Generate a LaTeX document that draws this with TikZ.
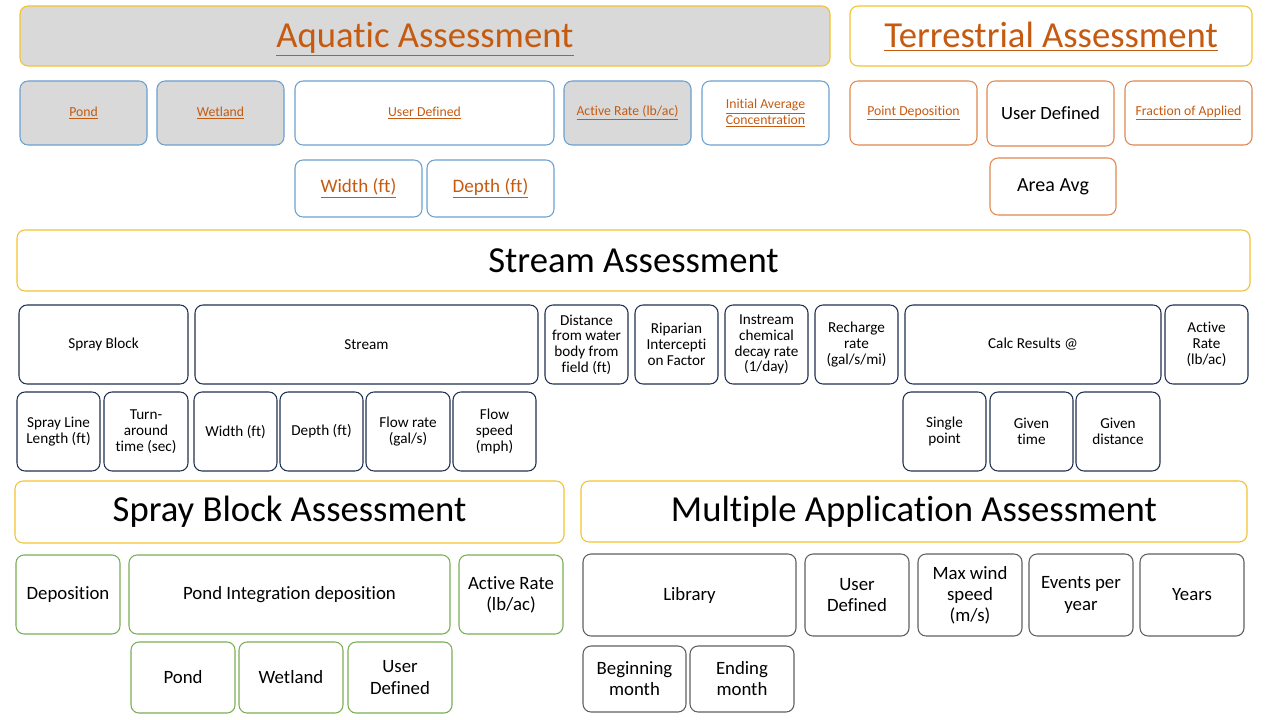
\documentclass[tikz,border=0pt]{standalone}
\usepackage{fontspec}
\setmainfont[Ligatures={NoCommon}]{Carlito}
\definecolor{gold}{HTML}{F2C12E}
\definecolor{bluebd}{HTML}{6A9FCF}
\definecolor{orgbd}{HTML}{E0864E}
\definecolor{navybd}{HTML}{1F3050}
\definecolor{greenbd}{HTML}{7AAE55}
\definecolor{graybd}{HTML}{5F5F5F}
\definecolor{grayfill}{HTML}{D9D9D9}
\definecolor{linkc}{HTML}{C55A11}
\newcommand\bx[7]{\node[#1, minimum width={(#5-#3)*0.75pt}, minimum height={(#6-#4)*0.75pt}] (#2) at ({(#3+#5)/2},{(#4+#6)/2}) {#7};}
\newcommand\ul[1]{\underline{#1}}
\begin{document}
\begin{tikzpicture}[x=0.75pt,y=-0.75pt,
  base/.style={draw, rounded corners=6pt, line width=0.8pt, inner sep=0pt, align=center},
  hdr/.style={base, draw=gold, font=\fontsize{27.5}{32}\selectfont},
  aq/.style={base, draw=bluebd, text=linkc, font=\fontsize{10.3}{11.5}\selectfont},
  aqbig/.style={aq, font=\fontsize{14.3}{16}\selectfont},
  ter/.style={base, draw=orgbd, text=linkc, font=\fontsize{10.3}{11.5}\selectfont},
  terbig/.style={ter, text=black, font=\fontsize{14}{16}\selectfont},
  st/.style={base, draw=navybd, font=\fontsize{11.4}{11.8}\selectfont},
  sb/.style={base, draw=greenbd, font=\fontsize{14.1}{15.8}\selectfont},
  ma/.style={base, draw=graybd, font=\fontsize{14.1}{15.8}\selectfont},
  gf/.style={fill=grayfill}]
\useasboundingbox (0,0) rectangle (1280,720);
% Aquatic
\bx{hdr,gf,text=linkc,text height=20pt,text depth=2.5pt}{aqh}{20}{6}{830}{66}{\ul{Aquatic Assessment}}
\bx{hdr,text=linkc,text height=20pt,text depth=2.5pt}{terh}{850}{6}{1252}{66}{\ul{Terrestrial Assessment}}
\bx{aq,gf}{aqpond}{20}{81}{147}{145}{\ul{Pond}}
\bx{aq,gf}{aqwet}{157}{81}{284}{145}{\ul{Wetland}}
\bx{aq}{aqud}{295}{81}{554}{145}{\ul{User Defined}}
\bx{aq,gf}{aqar}{564}{81}{691}{145}{\ul{Active Rate (lb/ac)}}
\bx{aq}{aqiac}{702}{81}{829}{145}{\ul{Initial Average}\\\ul{Concentration}}
\bx{aqbig}{aqw}{295}{160}{422}{217}{\ul{Width (ft)}}
\bx{aqbig}{aqd}{427}{160}{554}{217}{\ul{Depth (ft)}}
% Terrestrial
\bx{ter}{tpd}{850}{81}{977}{145}{\ul{Point Deposition}}
\bx{terbig}{tud}{987}{81}{1114}{146}{User Defined}
\bx{ter}{tfa}{1125}{81}{1252}{145}{\ul{Fraction of Applied}}
\bx{terbig,font=\fontsize{15}{17}\selectfont}{taa}{990}{158}{1116}{215}{Area Avg}
% Stream
\bx{hdr}{sth}{17}{230}{1250}{291}{Stream Assessment}
\bx{st}{ssb}{19}{305}{188}{384}{Spray Block}
\bx{st}{sstr}{195}{305}{538}{384}{Stream}
\bx{st}{sdist}{545}{305}{628}{384}{Distance\\from water\\body from\\field (ft)}
\bx{st}{srip}{635}{305}{718}{384}{Riparian\\Intercepti\\on Factor}
\bx{st}{sdec}{725}{305}{808}{384}{Instream\\chemical\\decay rate\\(1/day)}
\bx{st}{srech}{815}{305}{898}{384}{Recharge\\rate\\(gal/s/mi)}
\bx{st}{scalc}{905}{305}{1161}{384}{Calc Results @}
\bx{st}{sar}{1165}{305}{1248}{384}{Active\\Rate\\(lb/ac)}
\bx{st}{ssll}{17}{392}{100}{471}{Spray Line\\Length (ft)}
\bx{st}{sturn}{104}{392}{188}{471}{Turn-\\around\\time (sec)}
\bx{st}{swid}{194}{392}{277}{471}{Width (ft)}
\bx{st}{sdep}{280}{392}{363}{471}{Depth (ft)}
\bx{st}{sflow}{366}{392}{450}{471}{Flow rate\\(gal/s)}
\bx{st}{sspd}{453}{392}{536}{471}{Flow\\speed\\(mph)}
\bx{st}{ssp}{903}{392}{986}{471}{Single\\point}
\bx{st}{sgt}{990}{392}{1073}{471}{Given\\time}
\bx{st}{sgd}{1076}{392}{1160}{471}{Given\\distance}
% Spray block
\bx{hdr}{sbh}{15}{481}{564}{543}{Spray Block Assessment}
\bx{sb}{sbdep}{16}{555}{120}{634}{Deposition}
\bx{sb}{sbpid}{129}{555}{450}{634}{Pond Integration deposition}
\bx{sb}{sbar}{459}{555}{563}{634}{Active Rate\\(lb/ac)}
\bx{sb}{sbpond}{131}{642}{235}{713}{Pond}
\bx{sb}{sbwet}{239}{642}{343}{713}{Wetland}
\bx{sb}{sbud}{348}{642}{452}{713}{User\\Defined}
% Multiple application
\bx{hdr}{mah}{581}{481}{1247}{542}{Multiple Application Assessment}
\bx{ma}{malib}{583}{554}{796}{636}{Library}
\bx{ma}{maud}{805}{554}{909}{636}{User\\Defined}
\bx{ma}{mawind}{918}{554}{1022}{636}{Max wind\\speed\\(m/s)}
\bx{ma}{maev}{1029}{554}{1133}{636}{Events per\\year}
\bx{ma}{mayr}{1140}{554}{1244}{636}{Years}
\bx{ma}{mabeg}{583}{646}{686}{712}{Beginning\\month}
\bx{ma}{maend}{690}{646}{794}{712}{Ending\\month}
\end{tikzpicture}
\end{document}
